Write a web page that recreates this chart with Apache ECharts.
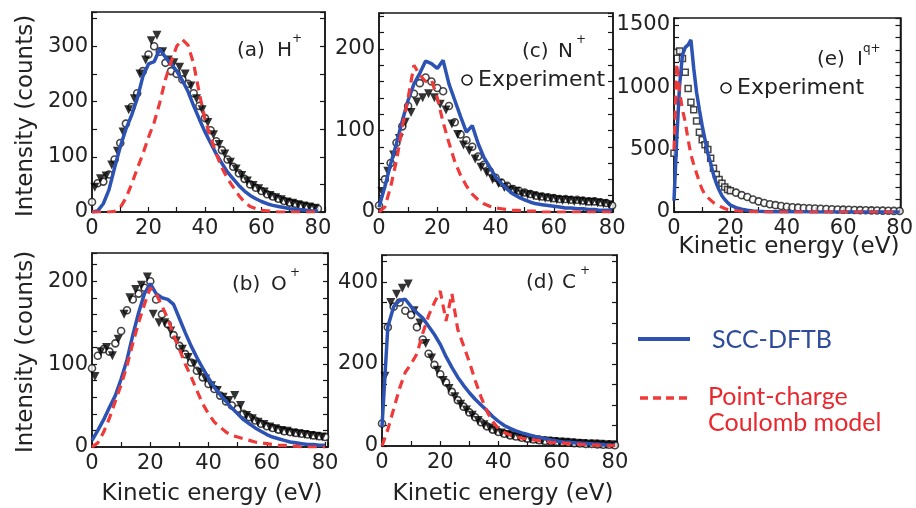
<!DOCTYPE html>
<html><head><meta charset="utf-8">
<script src="https://cdn.jsdelivr.net/npm/echarts@6/dist/echarts.min.js"></script>
<style>html,body{margin:0;padding:0;background:#fff}#c{width:916px;height:508px}</style>
</head><body><div id="c"></div><script>
// ---- shared energy grids (eV) ----
const energyEven = [0,2,4,6,8,10,12,14,16,18,20,22,24,26,28,30,32,34,36,38,40,42,44,46,48,50,52,54,56,58,60,62,64,66,68,70,72,74,76,78,80];
const energyOdd = [1,3,5,7,9,11,13,15,17,19,21,23,25,27,29,31,33,35,37,39,41,43,45,47,49,51,53,55,57,59,61,63,65,67,69,71,73,75,77,79];
const energyFine = [0,1,2,3,4,5,6,7,8,9,10,11,12,13,14,15,16,17,18,19,20];
const energyTail = [22,24,26,28,30,32,34,36,38,40,42,44,46,48,50,52,54,56,58,60,62,64,66,68,70,72,74,76,78,80];

// ---- (a) H+ ----
const hExpCircle = [18,52,55,68,95,125,160,190,215,255,285,300,290,270,255,250,240,232,215,192,170,148,128,112,95,82,70,60,50,44,38,32,28,24,20,17,15,12,10,8,6];
const hExpTriangle = [45,60,65,85,110,145,185,205,250,275,310,320,290,275,270,262,250,228,205,185,162,140,122,105,90,78,66,56,48,42,36,30,26,22,18,16,13,11,9,7];
const hDFTB = [0,2,15,40,80,118,150,175,205,245,268,272,295,280,268,255,238,218,192,168,145,125,105,88,72,60,48,38,30,24,19,15,12,10,8,6,5,4,3,2,2];
const hCoulomb = [0,0,0,0,1,8,25,50,78,105,135,162,198,240,272,300,312,302,268,215,168,135,105,80,60,45,30,18,10,6,3,2,1,0,0,0,0,0,0,0,0];

// ---- (c) N+ ----
const nExpCircle = [8,40,60,85,105,130,145,158,165,160,152,148,130,110,95,88,80,68,58,50,42,36,32,28,26,24,22,20,19,18,17,16,16,15,15,14,13,13,12,11,8];
const nExpTriangle = [25,50,70,90,110,122,135,140,145,140,132,125,108,95,82,75,65,55,48,40,35,30,27,25,22,21,20,18,17,16,15,14,14,13,13,12,12,11,10,9];
const nDFTB = [6,31,59,84,112,137,157,170,185,182,176,186,157,137,117,98,106,84,67,55,43,35,28,22,18,15,12,10,9,8,7,6,5,5,4,4,3,3,2,2,2];
const nCoulomb = [0,6,31,63,104,140,180,168,160,162,140,110,85,62,45,32,22,15,10,7,5,4,3,2,2,1,1,1,0,0,0,0,0,0,0,0,0,0,0,0,0];

// ---- (e) I q+ ----
const iExpFine = [470,1280,1290,1230,1120,990,880,820,730,640,580,540,500,430,350,300,260,230,200,180,170];
const iExpTail = [155,135,120,100,85,72,62,55,48,42,38,35,32,30,28,26,24,22,20,19,18,16,15,14,13,12,11,10,9,8];
const iDFTBFine = [90,600,1020,1260,1320,1340,1380,1150,960,820,690,580,470,390,300,230,176,130,100,75,55];
const iDFTBTail = [35,22,14,9,6,4,3,3,2,2,2,2,2,1,1,1,1,1,1,1,1,1,1,1,1,1,1,1,1,1];
const iCoulombFine = [500,1190,960,820,720,580,460,380,310,240,180,140,115,95,75,60,48,38,28,20,16];
const iCoulombTail = [10,6,4,2,1,0,0,0,0,0,0,0,0,0,0,0,0,0,0,0,0,0,0,0,0,0,0,0,0,0];

// ---- (b) O+ ----
const oExpCircle = [95,110,118,115,125,140,165,178,185,192,200,178,160,148,135,122,112,102,92,84,76,70,62,55,50,46,40,36,32,28,25,23,21,19,18,17,16,15,14,13,12];
const oExpTriangle = [85,115,120,110,130,160,180,190,195,205,160,150,150,140,128,118,108,100,90,82,74,68,60,56,62,50,38,34,30,27,24,22,20,19,17,16,15,14,13,12];
const oDFTB = [8,20,33,48,62,82,105,135,162,185,197,185,180,178,172,155,138,122,108,95,83,72,63,55,47,40,33,28,23,19,15,12,10,8,6,5,4,3,3,2,2];
const oCoulomb = [0,5,18,35,55,75,98,125,150,172,192,185,170,155,135,118,100,85,68,52,40,30,24,18,14,12,10,8,6,5,4,3,2,2,1,1,0,0,0,0,0];

// ---- (d) C+ ----
const cExpCircle = [55,290,340,350,330,320,290,260,225,198,175,155,132,112,96,82,70,58,48,40,34,30,26,23,20,18,16,14,12,11,10,9,8,7,6,5,5,4,3,3,2];
const cExpTriangle = [170,350,370,385,395,330,300,250,215,185,160,140,120,102,88,75,62,52,44,37,32,28,25,22,19,17,15,13,12,11,10,9,8,7,6,5,5,4,3,3];
const cDFTB = [47,291,340,355,358,340,325,312,292,272,248,218,192,168,148,130,114,100,87,72,60,50,43,37,32,28,24,21,18,15,12,10,9,8,7,6,5,4,3,2,2];
const cCoulomb = [0,40,90,140,180,200,225,275,318,350,378,305,372,285,245,205,160,120,85,60,42,33,27,23,19,17,15,13,11,9,8,7,6,5,4,3,2,2,1,1,1];

// tick labels
const xTickLabels = [0,20,40,60,80];

// ---- build ----
const zip = (xs, ys) => xs.map((x, i) => [x, ys[i]]);
const BLUE = '#2c52b4', RED = '#f03a3a', INK = '#161616';
const TICKFONT = 'DejaVu Sans';

const panels = [
  { grid:{left:92, top:12, width:233, height:200}, xMax:82.5, yMax:362, yStep:50, yLab:100,
    circle: zip(energyEven, hExpCircle), tri: zip(energyOdd, hExpTriangle),
    dftb: zip(energyEven, hDFTB), coul: zip(energyEven, hCoulomb) },
  { grid:{left:379, top:13, width:234, height:199}, xMax:80.3, yMax:244, yStep:20, yLab:100,
    circle: zip(energyEven, nExpCircle), tri: zip(energyOdd, nExpTriangle),
    dftb: zip(energyEven, nDFTB), coul: zip(energyEven, nCoulomb) },
  { grid:{left:674, top:18, width:230, height:194}, xMax:80.3, yMax:1555, yStep:100, yLab:500,
    square: zip(energyFine, iExpFine), circle: zip(energyTail, iExpTail),
    dftb: zip(energyFine, iDFTBFine).concat(zip(energyTail, iDFTBTail)),
    coul: zip(energyFine, iCoulombFine).concat(zip(energyTail, iCoulombTail)) },
  { grid:{left:92, top:253, width:236, height:194}, xMax:81, yMax:234, yStep:20, yLab:100,
    circle: zip(energyEven, oExpCircle), tri: zip(energyOdd, oExpTriangle),
    dftb: zip(energyEven, oDFTB), coul: zip(energyEven, oCoulomb) },
  { grid:{left:382, top:255, width:235, height:191}, xMax:80.7, yMax:466, yStep:50, yLab:200,
    circle: zip(energyEven, cExpCircle), tri: zip(energyOdd, cExpTriangle),
    dftb: zip(energyEven, cDFTB), coul: zip(energyEven, cCoulomb) }
];

const grids = [], xAxes = [], yAxes = [], series = [];
panels.forEach((p, i) => {
  grids.push(Object.assign({ show:true, borderColor:INK, borderWidth:1.5, containLabel:false }, p.grid));
  xAxes.push({ type:'value', gridIndex:i, min:0, max:p.xMax, interval:10,
    axisLine:{show:true, lineStyle:{color:INK, width:1.5}},
    axisTick:{show:true, inside:true, length:5, lineStyle:{color:INK, width:1.2}},
    axisLabel:{margin:6, color:'#222', fontFamily:TICKFONT, fontSize:21,
      formatter: v => xTickLabels.indexOf(v) >= 0 ? String(v) : ''},
    splitLine:{show:false} });
  const yBase = { type:'value', gridIndex:i, min:0, max:p.yMax, interval:p.yStep,
    axisTick:{show:true, inside:true, length:5, lineStyle:{color:INK, width:1.2}},
    splitLine:{show:false} };
  yAxes.push(Object.assign({}, yBase, { position:'left',
    axisLine:{show:true, onZero:false, lineStyle:{color:INK, width:1.5}},
    axisLabel:{margin:4, color:'#222', fontFamily:TICKFONT, fontSize:21,
      formatter: v => (v % p.yLab === 0) ? String(v) : ''} }));
  yAxes.push(Object.assign({}, yBase, { position:'right',
    axisLine:{show:true, onZero:false, lineStyle:{color:INK, width:1.5}},
    axisLabel:{show:false} }));
  const yi = 2 * i;
  if (p.square) series.push({ type:'scatter', xAxisIndex:i, yAxisIndex:yi, data:p.square,
    symbol:'rect', symbolSize:6, itemStyle:{color:'#fff', borderColor:INK, borderWidth:1.5}, z:2 });
  if (p.circle) series.push({ type:'scatter', xAxisIndex:i, yAxisIndex:yi, data:p.circle,
    symbol:'circle', symbolSize:7, itemStyle:{color:'#fff', borderColor:INK, borderWidth:1.6}, z:2 });
  if (p.tri) series.push({ type:'scatter', xAxisIndex:i, yAxisIndex:yi, data:p.tri,
    symbol:'triangle', symbolRotate:180, symbolSize:9, itemStyle:{color:'#000'}, z:2 });
  series.push({ type:'line', xAxisIndex:i, yAxisIndex:yi, data:p.dftb, showSymbol:false,
    lineStyle:{color:BLUE, width:3.5}, z:3, silent:true });
  series.push({ type:'line', xAxisIndex:i, yAxisIndex:yi, data:p.coul, showSymbol:false,
    lineStyle:{color:RED, width:3.2, type:[9,6]}, z:4, silent:true });
});

const txt = (x, y, text, font, opts) => Object.assign({ type:'text', x:x, y:y, z:100,
  style:{ text:text, font:font, fill:'#222', textAlign:'left', textVerticalAlign:'middle' } }, opts || {});
const ctr = (x, y, text, font, rot) => ({ type:'text', x:x, y:y, z:100, rotation: rot || 0,
  style:{ text:text, font:font, fill:'#222', textAlign:'center', textVerticalAlign:'middle' } });
const LAB = '20px "DejaVu Sans"', SUP = '12px "DejaVu Sans"', TITLE = '23px "DejaVu Sans"';
const graphic = [
  ctr(26, 116, 'Intensity (counts)', TITLE, Math.PI/2),
  ctr(26, 352, 'Intensity (counts)', TITLE, Math.PI/2),
  ctr(212, 494, 'Kinetic energy (eV)', TITLE),
  ctr(503, 494, 'Kinetic energy (eV)', TITLE),
  ctr(789, 247, 'Kinetic energy (eV)', TITLE),
  txt(237, 51, '(a)', LAB), txt(277, 51, 'H', LAB), txt(292, 39, '+', SUP),
  txt(522, 52, '(c)', LAB), txt(558, 52, 'N', LAB), txt(576, 40, '+', SUP),
  txt(817, 60, '(e)', LAB), txt(857, 60, 'I', LAB), txt(863, 49, 'q+', SUP),
  txt(232, 285, '(b)', LAB), txt(271, 285, 'O', LAB), txt(290, 273, '+', SUP),
  txt(526, 283, '(d)', LAB), txt(562, 283, 'C', LAB), txt(580, 271, '+', SUP),
  { type:'circle', z:100, shape:{cx:467, cy:80, r:5}, style:{fill:'#fff', stroke:INK, lineWidth:1.5} },
  txt(478, 80, 'Experiment', '22px "DejaVu Sans"'),
  { type:'circle', z:100, shape:{cx:726, cy:88, r:5}, style:{fill:'#fff', stroke:INK, lineWidth:1.5} },
  txt(737, 88, 'Experiment', '22px "DejaVu Sans"'),
  { type:'line', z:100, shape:{x1:638, y1:339, x2:690, y2:339}, style:{stroke:BLUE, lineWidth:4} },
  txt(712, 340, 'SCC-DFTB', '25px Lato', {style:{text:'SCC-DFTB', font:'25px Lato', fill:'#2e4b9c', textAlign:'left', textVerticalAlign:'middle'}}),
  { type:'line', z:100, shape:{x1:640, y1:398, x2:690, y2:398}, style:{stroke:RED, lineWidth:3.5, lineDash:[8,5]} },
  txt(708, 397, 'Point-charge', '25px Lato', {style:{text:'Point-charge', font:'25px Lato', fill:'#e8282e', textAlign:'left', textVerticalAlign:'middle'}}),
  txt(708, 423, 'Coulomb model', '25px Lato', {style:{text:'Coulomb model', font:'25px Lato', fill:'#e8282e', textAlign:'left', textVerticalAlign:'middle'}})
];

const chart = echarts.init(document.getElementById('c'), null, {renderer:'canvas'});
chart.setOption({ animation:false, backgroundColor:'#fff', grid:grids, xAxis:xAxes, yAxis:yAxes, series:series, graphic:graphic });
</script></body></html>
